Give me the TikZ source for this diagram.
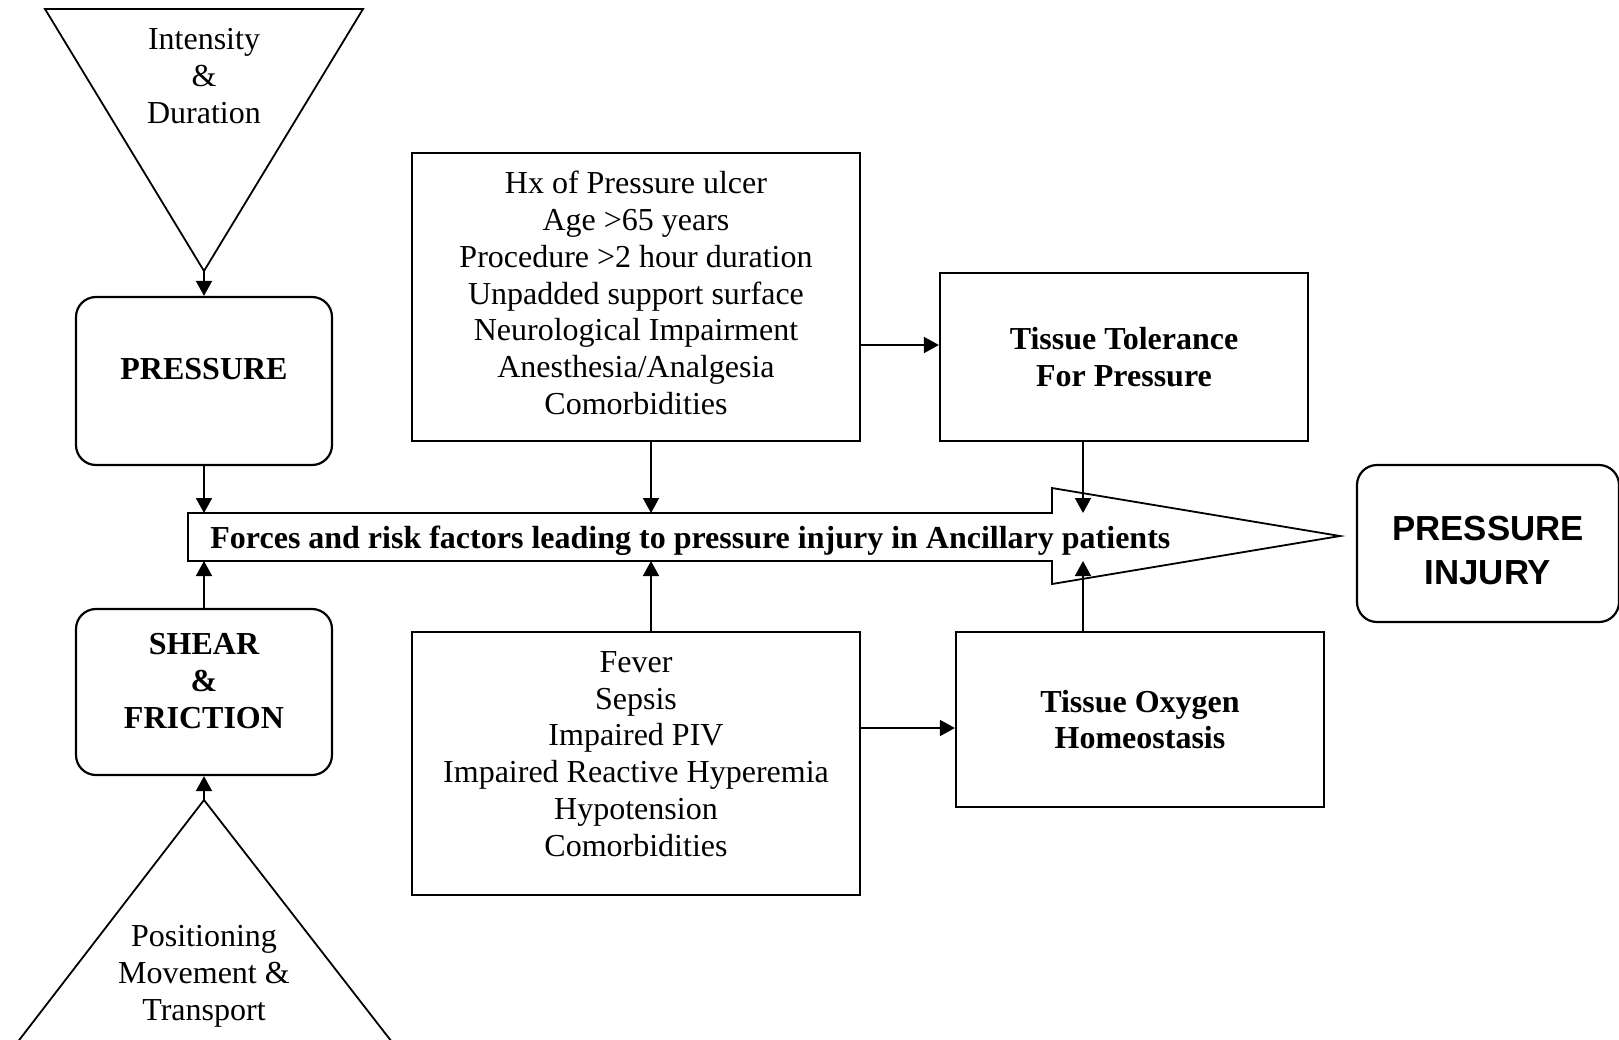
\documentclass[tikz,border=0pt]{standalone}
\usepackage{fontspec}
\setmainfont{Liberation Serif}
\newfontfamily\arialfont{Liberation Sans}
\usetikzlibrary{arrows.meta}

\begin{document}
\begin{tikzpicture}[x=0.5pt,y=-0.5pt,
  font=\fontsize{16}{18.4}\selectfont,
  box/.style={draw, line width=1.1pt, inner sep=0pt, align=center},
  rbox/.style={box, rounded corners=10pt},
  lbl/.style={align=center, font=\fontsize{16}{18.4}\selectfont\bfseries},
  arr/.style={-{Triangle[length=7.5pt,width=8pt]}, line width=0.9pt}]
\useasboundingbox (0,0) rectangle (1619,1040);
\clip (0,0) rectangle (1619,1040);
% triangles
\draw[line width=0.9pt] (45,9) -- (363,9) -- (204,271) coordinate (topapex) -- cycle;
\node[align=center] (intensity) at (204,76) {Intensity\\\&\\Duration};
\draw[line width=0.9pt] (204,800) coordinate (botapex) -- (-27,1100) -- (437,1100) -- cycle;
\node[align=center] (positioning) at (204,976) {Positioning\\Movement \&\\Transport};
% main arrow
\draw[line width=0.9pt] (188,513) coordinate (bodytop) -- (1052,513) -- (1052,488)
  -- (1340,536) -- (1052,584) -- (1052,561) -- (188,561) coordinate (bodybot) -- cycle;
\node[anchor=west, inner sep=0pt, font=\fontsize{16}{18.4}\selectfont\bfseries] (forces) at (210,541)
  {Forces and risk factors leading to pressure injury in Ancillary patients};
% boxes
\node[rbox, minimum width=128pt, minimum height=84pt,
  label={[lbl, yshift=6.2pt]center:PRESSURE}] (pressure) at (204,381) {};
\node[rbox, minimum width=128pt, minimum height=83pt,
  label={[lbl, yshift=5.5pt]center:SHEAR\\\&\\FRICTION}] (shear) at (204,692) {};
\node[box, minimum width=224pt, minimum height=144pt,
  label={[align=center, yshift=2pt]center:Hx of Pressure ulcer\\Age >65 years\\Procedure >2 hour duration\\Unpadded support surface\\Neurological Impairment\\Anesthesia/Analgesia\\Comorbidities}]
  (risk1) at (636,297) {};
\node[box, minimum width=224pt, minimum height=131.5pt,
  label={[align=center, yshift=4.75pt]center:Fever\\Sepsis\\Impaired PIV\\Impaired Reactive Hyperemia\\Hypotension\\Comorbidities}]
  (risk2) at (636,763.5) {};
\node[box, minimum width=184pt, minimum height=84pt, font=\fontsize{16}{18.4}\selectfont\bfseries]
  (tolerance) at (1124,357) {Tissue Tolerance\\For Pressure};
\node[box, minimum width=184pt, minimum height=87.5pt, font=\fontsize{16}{18.4}\selectfont\bfseries]
  (oxygen) at (1140,719.5) {Tissue Oxygen\\Homeostasis};
\node[rbox, minimum width=131pt, minimum height=78.5pt,
  label={[lbl, font=\arialfont\fontsize{17.4}{22}\selectfont\bfseries, yshift=-3.75pt]center:PRESSURE\\INJURY}]
  (injury) at (1488,543.5) {};
% connectors
\coordinate (r1down) at ([xshift=7.5pt]risk1.south);
\coordinate (r2up) at ([xshift=7.5pt]risk2.north);
\coordinate (r1out) at ([yshift=-24pt]risk1.east);
\coordinate (r2out) at ([yshift=17.75pt]risk2.east);
\coordinate (ttdown) at ([xshift=-20.5pt]tolerance.south);
\coordinate (toup) at (oxygen.north -| ttdown);
\draw[arr] (topapex) -- (pressure.north);
\draw[arr] (pressure.south) -- (pressure.south |- bodytop);
\draw[arr] (botapex) -- (shear.south);
\draw[arr] (shear.north) -- (shear.north |- bodybot);
\draw[arr] (r1down) -- (r1down |- bodytop);
\draw[arr] (r2up) -- (r2up |- bodybot);
\draw[arr] (r1out) -- (r1out -| tolerance.west);
\draw[arr] (r2out) -- (r2out -| oxygen.west);
\draw[arr] (ttdown) -- (ttdown |- bodytop);
\draw[arr] (toup) -- (toup |- bodybot);
\end{tikzpicture}
\end{document}
